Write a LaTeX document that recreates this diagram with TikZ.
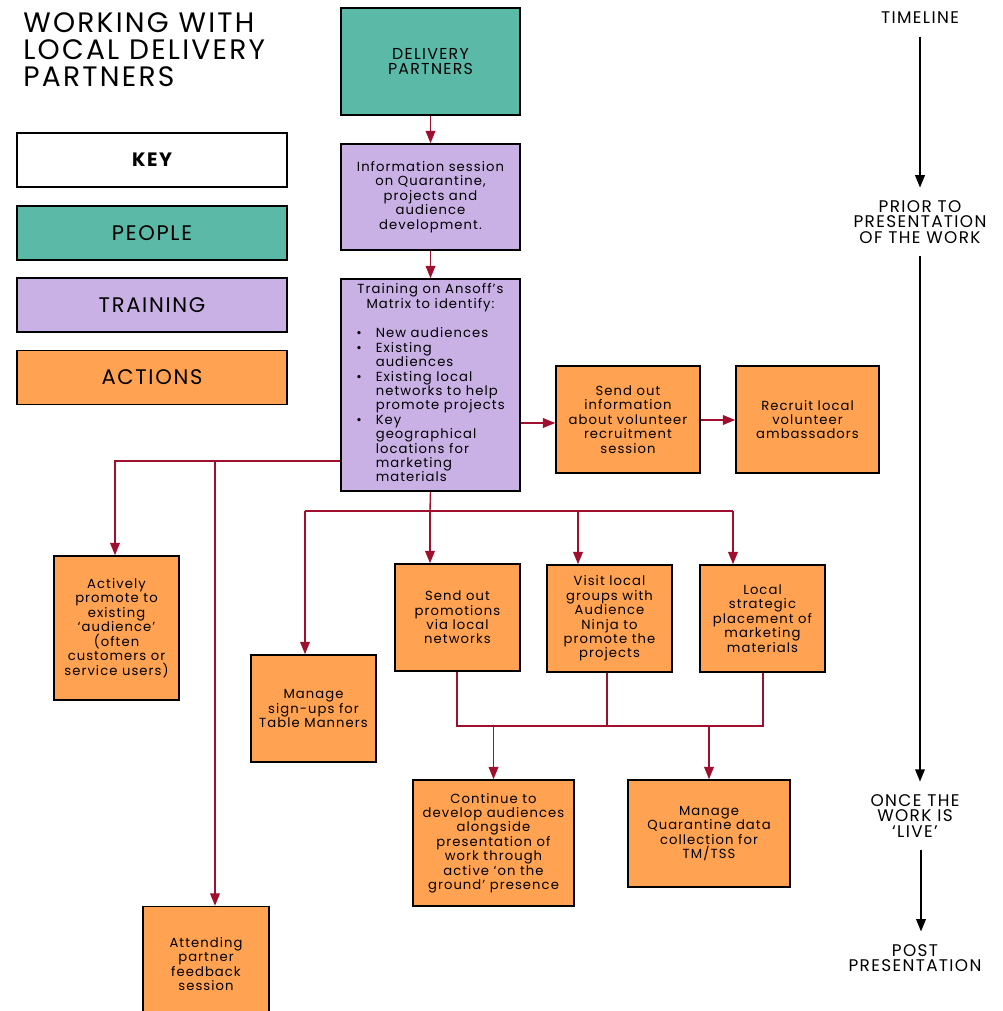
\documentclass[tikz,border=0pt]{standalone}
\usepackage{fontspec}
\setmainfont{Poppins}[LetterSpace=8]
\usetikzlibrary{arrows.meta,positioning,calc}

\definecolor{peoplecol}{HTML}{5BB9A7}
\definecolor{trainingcol}{HTML}{C9B1E5}
\definecolor{actioncol}{HTML}{FFA352}
\definecolor{linkcol}{HTML}{A0102E}

\newcommand{\boxfont}{\fontsize{7.5}{8.2}\selectfont}

\begin{document}
\begin{tikzpicture}
[x=0.02cm,y=-0.02cm,
box/.style={shape=rectangle,draw=black,line width=0.9pt,align=center,inner sep=1pt,font=\boxfont},
people/.style={box,fill=peoplecol},
training/.style={box,fill=trainingcol},
action/.style={box,fill=actioncol},
keybox/.style={box,minimum width=5.4cm,minimum height=1.08cm,font=\fontsize{12}{13}\selectfont},
link/.style={draw=linkcol,line width=0.8pt},
arr/.style={link,-{Triangle[length=7pt,width=5.5pt]}},
tlnode/.style={align=center,inner sep=0pt,font=\fontsize{9.6}{9}\selectfont},
tlarrow/.style={line width=0.9pt,-{Triangle[length=7pt,width=5.5pt]},shorten >=7pt,shorten <=7pt}]

\useasboundingbox (0,0) rectangle (1002,1011);

% title and key
\node (title) [anchor=north west,align=left,inner sep=0pt,font=\fontsize{16}{15.4}\selectfont] at (23,12) {WORKING WITH\\LOCAL DELIVERY\\PARTNERS};
\node (key) [keybox,fill=white,font=\fontsize{11}{13}\selectfont\bfseries] at (152,160) {KEY};
\node (kpeople) [keybox,fill=peoplecol] at (152,233) {PEOPLE};
\node (ktraining) [keybox,fill=trainingcol] at (152,305) {TRAINING};
\node (kaction) [keybox,fill=actioncol] at (152,377.5) {ACTIONS};

% main column
\node (dp) [people,minimum width=3.58cm,minimum height=2.14cm,font=\fontsize{9}{9}\selectfont] at (430.5,61.5) {DELIVERY\\PARTNERS};
\node (info) [training,minimum width=3.58cm,minimum height=2.12cm] at (430.5,197) {Information session\\on Quarantine,\\projects and\\audience\\development.};
\node (train) [training,minimum width=3.58cm,minimum height=4.24cm] at (430.5,385) {Training on Ansoff's\\Matrix to identify:\\[8.2pt]
\begin{tabular}{@{}l@{\hspace{8pt}}l@{}}
\textbullet & New audiences\\
\textbullet & Existing\\
 & audiences\\
\textbullet & Existing local\\
 & networks to help\\
 & promote projects\\
\textbullet & Key\\
 & geographical\\
 & locations for\\
 & marketing\\
 & materials
\end{tabular}};
\node (sendinfo) [action,minimum width=2.88cm,minimum height=2.14cm] at (628,419.5) {Send out\\information\\about volunteer\\recruitment\\session};
\node (recruit) [action,minimum width=2.86cm,minimum height=2.14cm] at (807.5,419.5) {Recruit local\\volunteer\\ambassadors};

% actions
\node (active) [action,minimum width=2.5cm,minimum height=2.88cm] at (116.5,628) {Actively\\promote to\\existing\\`audience'\\(often\\customers or\\service users)};
\node (signup) [action,minimum width=2.5cm,minimum height=2.14cm] at (313.5,708.5) {Manage\\sign-ups for\\Table Manners};
\node (promo) [action,minimum width=2.5cm,minimum height=2.14cm] at (457.5,617.5) {Send out\\promotions\\via local\\networks};
\node (visit) [action,minimum width=2.5cm,minimum height=2.14cm] at (609.5,618.5) {Visit local\\groups with\\Audience\\Ninja to\\promote the\\projects};
\node (local) [action,minimum width=2.5cm,minimum height=2.14cm] at (762.5,618.5) {Local\\strategic\\placement of\\marketing\\materials};
\node (cont) [action,minimum width=3.22cm,minimum height=2.52cm] at (493.5,843) {Continue to\\develop audiences\\alongside\\presentation of\\work through\\active `on the\\ground' presence};
\node (quar) [action,minimum width=3.24cm,minimum height=2.14cm] at (709,833.5) {Manage\\Quarantine data\\collection for\\TM/TSS};
\node (attend) [action,minimum width=2.52cm,minimum height=2.3cm] at (206,964) {Attending\\partner\\feedback\\session};

% timeline
\node (tl1) [tlnode] at (920,18) {TIMELINE};
\node (tl2) [tlnode] at (920,222) {PRIOR TO\\PRESENTATION\\OF THE WORK};
\node (tl3) [tlnode] at (915,816) {ONCE THE\\WORK IS\\`LIVE'};
\node (tl4) [tlnode] at (915,958) {POST\\PRESENTATION};
\draw[tlarrow] (tl1) -- (tl2);
\draw[tlarrow] (tl2.south -| tl1) -- (tl3.north -| tl1);
\draw[tlarrow] (tl3.south -| 921,0) -- (tl4.north -| 921,0);

% connectors
\coordinate (split) at (215,461);
\coordinate (bus) at (430,511);
\coordinate (busL) at (305,511);
\coordinate (busR) at (733,511);
\coordinate (m1) at (457,726);
\coordinate (m2) at (763,726);

\draw[arr] (dp) -- (info);
\draw[arr] (info) -- (train);
\draw[arr] (train.east |- 0,423) -- (sendinfo.west |- 0,423);
\draw[arr] (sendinfo.east |- 0,420) -- (recruit.west |- 0,420);
\draw[arr] (train.west |- split) -| (active.north -| 115,0);
\draw[arr] (split) -- (split |- attend.north);
\draw[link] (train.south) -- (bus);
\draw[link] (busL) -- (busR);
\draw[arr] (busL) -- (busL |- signup.north);
\draw[arr] (bus) -- (bus |- promo.north);
\draw[arr] (578,511) -- (visit.north -| 578,0);
\draw[arr] (busR) -- (busR |- local.north);
\draw[link] (promo.south -| m1) -- (m1) -- (m2) -- (local.south -| m2);
\draw[link] (visit.south -| 607,0) -- (m1 -| 607,0);
\draw[arr] (cont.north |- m1) -- (cont.north);
\draw[arr] (quar.north |- m1) -- (quar.north);

\end{tikzpicture}
\end{document}
